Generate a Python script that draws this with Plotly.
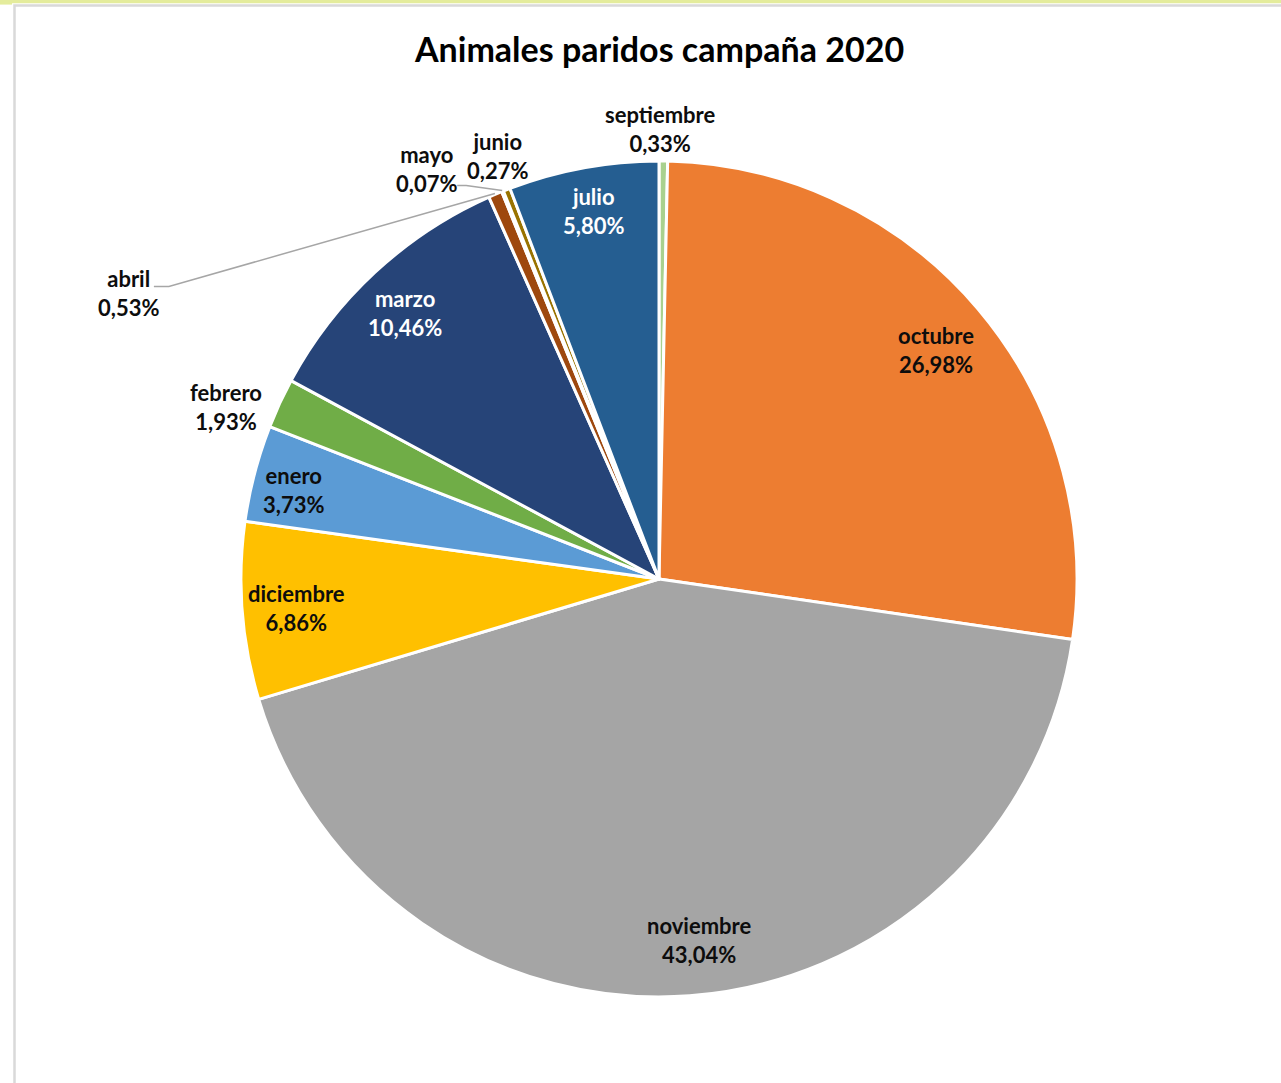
import math
import plotly.graph_objects as go

# ---------------- data ----------------
months = ["septiembre", "octubre", "noviembre", "diciembre", "enero", "febrero",
          "marzo", "abril", "mayo", "junio", "julio"]
values = [0.33, 26.98, 43.04, 6.86, 3.73, 1.93, 10.46, 0.53, 0.07, 0.27, 5.80]
colors = ["#A9D18E", "#ED7D31", "#A5A5A5", "#FFC000", "#5B9BD5", "#70AD47",
          "#264478", "#9E480E", "#636363", "#997300", "#255E91"]
title_text = "Animales paridos campaña 2020"

# ---------------- layout constants ----------------
W, H = 1281, 1083
CX, CY, R = 659, 579, 418          # pie centre / radius in px
FONT = "Lato"
LABEL_SIZE = 22
INSIDE_R = 0.88                    # radial position of inside labels (fraction of R)
inside_labels = {"octubre", "noviembre", "diciembre", "enero", "marzo", "julio"}
white_labels = {"marzo", "julio"}
# small pixel nudges of inside labels (Excel places them by bounding box)
inside_nudge = {
    "octubre": (-4, 9), "noviembre": (13, -6), "diciembre": (4, 1),
    "enero": (-10, 4), "marzo": (-4, 4), "julio": (1, -6),
}
# outside labels: pixel offset of the label centre from the slice's outer edge point
outside_offset = {
    "septiembre": (-3, -31),
    "febrero": (-53, 4),
    "abril": (-366, 100),
    "mayo": (-76, -21),
    "junio": (-9, -33),
}
# leader lines: (start offset from label centre, elbow length in px)
leaders = {
    "abril": ((25, -7), 15),
    "mayo": ((31, 16), 9),
}


def px(x):
    return x / W


def py(y):
    return 1 - y / H


def fmt(v):
    return f"{v:.2f}%".replace(".", ",")


def polar(angle_deg, r):
    a = math.radians(angle_deg)
    return CX + r * math.sin(a), CY - r * math.cos(a)


fig = go.Figure()
fig.add_trace(go.Pie(
    labels=months,
    values=values,
    sort=False,
    direction="clockwise",
    rotation=0,
    marker=dict(colors=colors, line=dict(color="white", width=3)),
    textinfo="none",
    hoverinfo="label+percent",
    showlegend=False,
    domain=dict(x=[px(CX - R), px(CX + R)], y=[py(CY + R), py(CY - R)]),
))

annotations = []
shapes = []
total = sum(values)
cum = 0.0
for m, v in zip(months, values):
    mid = (cum + v / 2) / total * 360
    cum += v
    color = "white" if m in white_labels else "#0D0D0D"
    text = f"{m}<br>{fmt(v)}"
    if m in inside_labels:
        lx, ly = polar(mid, INSIDE_R * R)
        nx, ny = inside_nudge.get(m, (0, 0))
        lx, ly = lx + nx, ly + ny
    else:
        ex, ey = polar(mid, R + 1)
        dx, dy = outside_offset[m]
        lx, ly = ex + dx, ey + dy
        if m in leaders:
            (sx, sy), elbow = leaders[m]
            x0, y0 = lx + sx, ly + sy
            x1 = x0 + elbow
            path = (f"M {px(x0)},{py(y0)} L {px(x1)},{py(y0)} "
                    f"L {px(ex)},{py(ey)}")
            shapes.append(dict(type="path", path=path, xref="paper", yref="paper",
                               line=dict(color="#A6A6A6", width=1.5)))
    annotations.append(dict(
        x=px(lx), y=py(ly), xref="paper", yref="paper", text=text,
        showarrow=False, xanchor="center", yanchor="middle", align="center",
        font=dict(family=FONT, size=LABEL_SIZE, color=color, weight="bold"),
    ))

# title
annotations.append(dict(
    x=px(CX), y=py(48), xref="paper", yref="paper", text=title_text,
    showarrow=False, xanchor="center", yanchor="middle",
    font=dict(family=FONT, size=34, color="#000000", weight="bold"),
))

# window decoration: yellow band at top and grey chart frame
shapes.append(dict(type="rect", xref="paper", yref="paper", x0=0, x1=1,
                   y0=py(3.2), y1=1.01, fillcolor="#E4EC9C", line=dict(width=0),
                   layer="below"))
shapes.append(dict(type="rect", xref="paper", yref="paper", x0=0, x1=px(12),
                   y0=py(4.6), y1=1.01, fillcolor="#E4EC9C", line=dict(width=0),
                   layer="below"))
shapes.append(dict(type="path", xref="paper", yref="paper",
                   path=f"M {px(14.5)},0 L {px(14.5)},{py(5.5)} L 1.01,{py(5.5)}",
                   line=dict(color="#D9D9D9", width=2.5), layer="below"))

fig.update_layout(
    width=W, height=H,
    margin=dict(l=0, r=0, t=0, b=0),
    paper_bgcolor="white", plot_bgcolor="white",
    annotations=annotations,
    shapes=shapes,
)

fig.write_html(
    "out.html",
    config={"displayModeBar": False},
    post_script="document.body.style.margin='0px';document.body.style.overflow='hidden';",
)
